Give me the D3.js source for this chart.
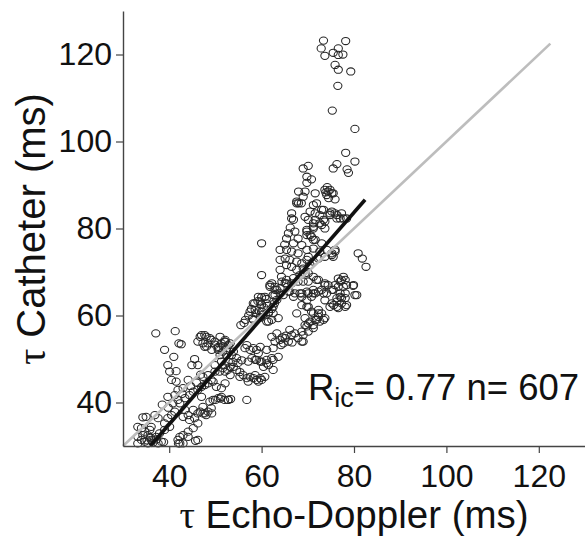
<!DOCTYPE html>
<html><head><meta charset="utf-8">
<script src="https://cdn.jsdelivr.net/npm/d3@7"></script>
<style>body{margin:0;background:#fff}svg{display:block}</style>
</head><body>
<svg id="chart" width="585" height="540"></svg>
<script>
const xDomain = [30, 130];
const yDomain = [30, 130];
const xTicks = [40, 60, 80, 100, 120];
const yTicks = [40, 60, 80, 100, 120];
const xTitle = "Echo-Doppler (ms)";
const yTitle = "Catheter (ms)";
const statText = ["R", "ic", "= 0.77 n= 607"];
const identityLine = [[30, 30], [122.5, 122.5]];
const fitLine = [[35.9, 30], [82.4, 86.6]];

// [tau Echo-Doppler, tau Catheter]
const topPoints = [[73.4,123.2],[78.2,123.1],[72.9,121.4],[76.6,121.4],[73.7,119.7],[75.5,120.4],[76.6,119.9],[77.6,120.0],[75.9,117.6],[76.6,116.5],[79.3,116.1],[76.5,112.8],[75.3,107.1],[80.2,102.9],[78.2,97.4],[80.2,95.4],[76.3,94.8],[75.5,93.8],[78.5,93.6],[78.8,92.8],[70.1,94.4],[69.0,93.8],[69.8,91.9],[70.8,91.3],[69.8,90.5]];
const upperPoints = [[68.0,88.5],[69.4,88.5],[69.0,87.3],[71.6,88.1],[73.7,88.9],[74.4,88.5],[74.1,87.7],[75.2,88.1],[75.9,86.7],[71.9,85.8],[68.0,85.8],[67.6,86.2],[73.0,84.3],[74.8,83.5],[76.3,83.1],[77.0,82.3],[66.5,83.5],[66.5,82.3],[66.9,82.0],[69.4,82.7],[70.1,82.0],[71.6,82.0],[71.2,81.2],[73.0,80.8],[69.8,79.7],[71.2,80.0],[73.7,81.6],[73.7,80.0],[74.8,88.9],[75.5,88.1],[75.2,83.9],[76.3,82.3],[78.4,82.3],[77.3,83.5],[74.8,83.1],[75.9,83.5],[77.7,82.3],[72.6,83.1],[71.6,83.5],[70.5,83.9],[71.2,85.4],[73.4,84.3],[72.6,81.2],[73.4,82.0],[74.5,87.0],[73.9,88.3],[74.2,89.5],[68.6,85.8],[67.6,85.8]];
const midPoints = [[65.8,78.9],[67.2,79.3],[65.4,77.7],[67.9,77.7],[66.9,76.6],[68.7,76.2],[69.8,78.5],[70.8,78.1],[71.2,77.4],[60.0,76.6],[64.0,75.1],[65.4,75.1],[66.5,74.7],[67.9,74.3],[69.8,75.1],[70.1,73.5],[71.2,75.4],[64.0,72.8],[65.1,73.1],[66.1,72.8],[67.6,72.4],[68.7,72.0],[69.8,72.8],[70.5,71.6],[69.0,70.8],[67.6,70.5],[66.5,71.2],[65.4,71.6],[60.0,69.3],[64.0,70.5],[64.3,68.9],[65.4,68.2],[66.9,68.6],[68.3,69.3],[70.1,69.7],[71.2,68.9],[71.9,68.2],[72.6,74.7],[75.2,73.9],[73.7,73.5],[72.3,73.1],[71.2,72.4],[75.2,74.3],[75.9,74.7],[74.1,75.1],[73.0,76.6],[71.6,77.4],[70.5,78.5],[69.8,79.3],[71.2,80.4],[75.9,75.1],[75.5,73.5],[66.2,80.2],[65.0,76.3],[80.9,74.3],[81.8,73.1],[82.6,71.2]];
const band65Points = [[61.8,67.0],[62.9,65.9],[64.0,66.3],[65.1,67.4],[66.1,65.5],[64.7,64.7],[66.9,64.3],[68.3,65.1],[69.8,65.5],[71.2,65.1],[72.3,65.5],[73.7,67.0],[74.1,65.1],[75.5,65.9],[76.6,68.5],[77.3,68.1],[77.7,66.6],[78.4,67.0],[79.9,67.0],[80.2,64.7],[76.3,63.2],[77.0,64.3],[75.2,62.8],[76.3,62.0],[78.1,62.0],[69.4,69.7],[72.3,68.2],[73.7,67.4],[62.2,67.4],[62.9,66.6],[64.4,67.8],[65.4,67.4],[66.5,67.4],[67.9,67.8],[69.0,67.8],[70.1,67.8],[59.3,64.3],[60.7,64.3],[62.9,64.7],[64.0,65.1],[65.8,65.5],[67.2,65.1],[68.7,65.1],[70.1,65.1],[71.2,65.9],[73.4,65.1],[74.4,67.0],[75.2,65.9],[77.7,68.9],[78.1,68.2],[77.0,67.8],[75.9,67.0],[76.6,66.6],[79.8,66.8],[77.0,65.1],[78.1,65.1],[76.3,64.0],[77.3,64.0],[77.3,62.8],[78.4,62.4],[76.6,61.7],[80.6,64.7],[78.1,64.0],[75.6,62.4],[74.8,62.0],[73.7,63.5],[73.0,65.9],[71.6,65.1],[70.8,64.3],[69.8,63.5],[68.7,64.3]];
const band58Points = [[68.7,62.4],[70.1,62.0],[71.2,60.5],[72.3,60.5],[73.4,59.0],[71.6,59.0],[70.5,58.6],[69.4,57.8],[70.1,56.3],[69.0,55.5],[68.7,54.0],[69.8,57.5],[71.2,57.1],[72.3,59.7],[67.6,60.5],[69.8,62.0],[70.8,60.9],[72.3,61.3],[73.0,60.5],[73.7,59.4],[71.9,59.0],[70.1,58.2],[69.4,59.4],[71.2,57.8],[72.6,58.6],[62.2,55.1],[63.3,55.9],[64.0,54.4],[65.1,54.8],[65.8,54.0],[64.7,53.6],[66.5,55.5],[67.2,55.9],[67.9,54.8],[69.0,54.0],[66.1,56.7],[68.7,56.3],[62.9,54.0],[64.5,55.0],[65.3,55.4],[64.2,53.2],[66.6,53.8],[61.5,58.6],[63.6,59.4],[62.5,60.5],[57.8,61.5],[58.5,62.8],[59.2,63.3],[60.0,62.5],[60.5,61.8],[61.2,62.2],[59.5,61.0],[58.8,60.5],[60.3,60.2],[61.5,60.8],[62.2,61.5],[57.2,60.0],[58.0,59.3],[59.8,59.5],[62.8,62.8],[61.0,63.8],[60.0,64.2],[56.5,59.0],[55.5,57.8],[56.2,58.3],[58.2,62.8],[59.7,63.2],[61.1,62.8],[62.5,62.0],[58.6,61.3],[60.0,60.9],[61.5,60.5],[63.3,63.6],[57.5,60.9],[62.2,59.0],[61.1,58.6],[58.2,59.0],[59.7,59.7],[61.8,66.6],[63.3,65.9],[62.5,64.7]];
const band50Points = [[46.7,55.1],[47.7,55.5],[48.8,54.8],[49.9,54.0],[51.0,55.1],[52.1,54.4],[48.1,52.9],[49.2,52.1],[50.6,52.5],[51.7,52.9],[52.8,53.2],[53.9,51.7],[52.4,50.9],[51.0,50.9],[54.6,50.2],[55.7,49.7],[56.8,53.2],[58.2,52.5],[59.7,52.8],[61.1,52.1],[62.5,52.5],[58.6,49.8],[59.7,49.4],[61.1,49.0],[62.5,49.8],[63.6,50.5],[56.4,52.5],[57.5,52.1],[58.9,52.1],[57.9,50.2],[58.9,49.8],[60.0,49.4],[61.1,49.8],[62.2,50.2],[61.5,48.6],[60.4,48.2],[62.5,47.5],[59.3,51.3],[57.1,49.4],[55.3,45.9],[56.0,46.3],[56.8,45.6],[57.5,45.9],[58.2,45.6],[58.9,45.2],[58.6,46.3],[59.7,45.6],[60.7,45.9],[57.1,44.8],[59.3,44.8],[60.0,45.2],[52.1,54.0],[53.2,53.6],[52.4,52.1],[53.5,50.9],[52.8,49.4],[53.9,48.2],[52.1,47.1],[53.2,46.3],[54.6,47.5],[52.1,44.4],[53.8,49.3],[54.9,49.1],[53.2,48.2],[55.3,47.0],[51.6,47.9],[47.0,55.5],[48.0,55.1],[48.4,53.6],[49.1,54.4],[49.9,53.3],[50.6,52.8],[51.3,53.6],[52.0,54.0],[47.3,53.6],[46.2,54.0],[47.7,52.8],[50.6,52.1],[51.6,51.7],[51.3,49.4],[49.9,48.6],[52.0,48.6],[50.9,47.1],[52.7,47.5],[46.2,48.6],[47.3,45.9],[48.4,46.3],[49.1,45.2],[49.9,47.1],[44.9,48.6],[45.5,50.0],[52.8,40.6],[53.3,40.8],[56.8,40.6]];
const lowPoints = [[37.1,55.9],[41.3,56.4],[42.1,53.6],[42.6,53.4],[39.0,52.1],[41.0,50.5],[39.7,48.6],[40.1,47.1],[41.5,47.2],[40.5,45.2],[41.5,44.8],[44.1,45.2],[43.0,43.3],[41.9,42.9],[39.7,41.3],[41.2,41.7],[41.9,40.6],[40.8,39.8],[42.3,39.8],[43.4,41.0],[44.4,41.7],[45.2,42.5],[46.2,42.9],[47.0,43.6],[47.7,44.0],[48.4,44.4],[49.5,44.8],[50.2,43.6],[51.3,43.3],[49.5,40.6],[50.6,41.0],[51.3,41.3],[52.0,40.6],[52.7,40.6],[47.0,41.3],[47.3,39.0],[48.4,37.9],[49.1,38.7],[48.0,37.1],[47.3,37.5],[46.2,37.5],[45.2,38.3],[44.1,37.1],[43.4,38.3],[43.0,36.7],[44.4,36.0],[45.5,36.4],[46.2,35.2],[45.2,34.1],[44.1,33.3],[43.0,32.5],[41.9,31.4],[42.3,30.6],[43.0,30.6],[44.1,32.1],[46.2,31.4],[45.7,31.2],[34.3,36.6],[35.0,36.7],[36.9,37.1],[37.6,36.4],[33.2,34.4],[34.0,34.1],[34.7,33.3],[35.8,33.7],[36.1,34.4],[35.4,32.5],[34.3,32.5],[33.2,32.1],[34.0,31.4],[34.7,31.0],[35.4,30.6],[36.1,31.4],[37.2,32.1],[37.9,32.9],[39.0,35.2],[39.7,36.4],[40.5,37.1],[41.2,37.9],[40.1,34.4],[39.0,33.7],[38.3,31.0],[37.6,30.6],[33.2,30.6],[36.5,30.8],[37.2,31.5],[36.0,31.9],[38.8,30.9],[35.2,31.3],[42.3,32.1],[42.0,30.6],[46.7,37.9],[47.7,37.5],[49.2,37.5],[48.8,40.2],[50.0,40.6],[51.1,40.9],[38.5,39.5],[39.8,38.8],[42.8,42.0],[44.6,43.8],[45.9,44.6],[46.8,46.4]];

const points = [].concat(topPoints, upperPoints, midPoints, band65Points, band58Points, band50Points, lowPoints);

const svg = d3.select("#chart");
const x = d3.scaleLinear().domain(xDomain).range([123, 585]);
const y = d3.scaleLinear().domain(yDomain).range([446, 11]);
const FONT = "'Liberation Sans', Arial, Helvetica, sans-serif";
const SERIF = "'Liberation Serif', 'Times New Roman', serif";

// points
svg.append("g").selectAll("ellipse").data(points).join("ellipse")
  .attr("cx", d => x(d[0])).attr("cy", d => y(d[1]))
  .attr("rx", 4.1).attr("ry", 3.6)
  .attr("fill", "none").attr("stroke", "#262626").attr("stroke-width", 1.05);

const line = d3.line().x(d => x(d[0])).y(d => y(d[1]));
svg.append("path").datum(identityLine).attr("d", line)
  .attr("fill", "none").attr("stroke", "#bdbdbd").attr("stroke-width", 2.6);
svg.append("path").datum(fitLine).attr("d", line)
  .attr("fill", "none").attr("stroke", "#111").attr("stroke-width", 3.6);

// axes
const yAxis = svg.append("g").attr("transform", "translate(123,0)")
  .call(d3.axisLeft(y).tickValues(yTicks).tickSize(7).tickSizeOuter(0).tickPadding(4).tickFormat(d3.format("d")));
const xAxis = svg.append("g").attr("transform", "translate(0,446)")
  .call(d3.axisBottom(x).tickValues(xTicks).tickSize(7).tickSizeOuter(0).tickPadding(11).tickFormat(d3.format("d")));
[yAxis, xAxis].forEach(a => {
  a.select(".domain").attr("stroke", "#444").attr("stroke-width", 1.4);
  a.selectAll(".tick line").attr("stroke", "#444").attr("stroke-width", 1.2);
  a.selectAll(".tick text").attr("font-family", FONT).attr("font-size", 32).attr("fill", "#111");
});

// titles
const xt = svg.append("text").attr("x", 354).attr("y", 528).attr("text-anchor", "middle")
  .attr("font-family", FONT).attr("font-size", 38.5).attr("fill", "#111");
xt.append("tspan").attr("font-family", SERIF).text("\u03C4");
xt.append("tspan").text(" " + xTitle);

const yt = svg.append("text").attr("transform", "translate(45,229) rotate(-90)").attr("text-anchor", "middle")
  .attr("font-family", FONT).attr("font-size", 40).attr("fill", "#111");
yt.append("tspan").attr("font-family", SERIF).text("\u03C4");
yt.append("tspan").text(" " + yTitle);

const st = svg.append("text").attr("x", 308).attr("y", 400)
  .attr("font-family", FONT).attr("font-size", 36.5).attr("fill", "#111");
st.append("tspan").text(statText[0]);
st.append("tspan").attr("font-size", 27).attr("dy", 7).text(statText[1]);
st.append("tspan").attr("dy", -7).text(statText[2]);
</script>
</body></html>
